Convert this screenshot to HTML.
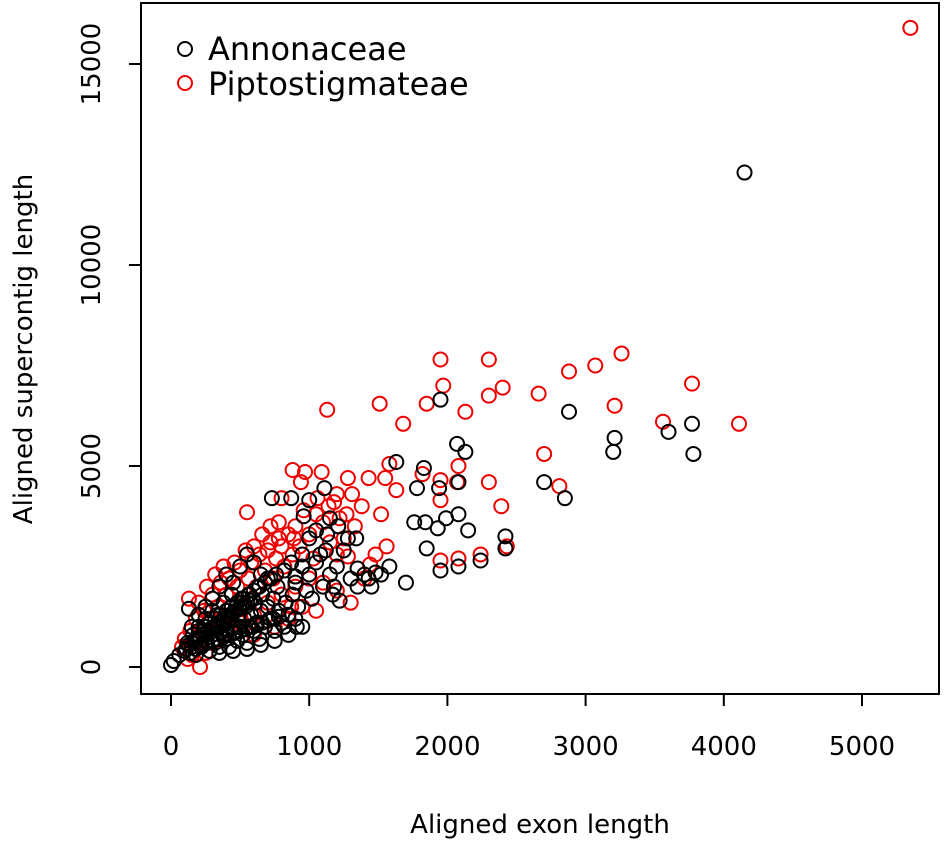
<!DOCTYPE html>
<html><head><meta charset="utf-8"><style>
body{margin:0;background:#fff}
svg{display:block;font-family:"DejaVu Sans","Liberation Sans",sans-serif}
</style></head><body>
<svg id="chart" width="945" height="841">
<rect x="141" y="3" width="798" height="691" fill="none" stroke="#000" stroke-width="2"/>
<g id="xaxis"></g>
<g id="yaxis"></g>
<g id="red"></g>
<g id="black"></g>
<text x="540" y="833" font-size="26" text-anchor="middle">Aligned exon length</text>
<text transform="translate(32,349) rotate(-90)" font-size="26" text-anchor="middle">Aligned supercontig length</text>
<g>
<circle cx="185" cy="49" r="7" fill="none" stroke="#000" stroke-width="2"/>
<text x="208" y="60" font-size="32">Annonaceae</text>
<circle cx="185" cy="83" r="7" fill="none" stroke="#e00" stroke-width="2"/>
<text x="208" y="95" font-size="32">Piptostigmateae</text>
</g>
</svg>
<script>
const xTicks=[0,1000,2000,3000,4000,5000];
const yTicks=[0,5000,10000,15000];
const blackX=[4150,2880,1950,3770,3600,3210,3200,3780,2070,2130,1630,2700,2850,1830,1780,1940,2080,1990,2080,2150,1840,1760,1930,2420,2420,2240,1850,1950,2080,1700,1580,1520,1480,1350,1350,1450,1430,1180,1170,1220,1280,1340,1210,1150,1130,1110,1000,870,730,960,1000,1050,1080,950,900,900,910,820,130,0,20,60,
100,120,150,160,180,200,200,220,240,250,260,280,280,300,300,320,330,340,350,360,380,380,400,400,410,420,430,440,450,460,470,480,490,500,510,520,530,540,550,560,570,580,600,610,620,630,640,650,660,680,700,700,720,740,750,770,780,800,820,830,850,870,880,900,920,950,980,1000,1020,1050,1100,1120,1150,1200,1250,1300,1400,300,350,400,450,500,550,600,650,250,200,150,350,450,550,650,750,850,950,
110,130,170,190,210,230,250,270,290,310,330,350,370,390,410,430,450,470,490,510,530,550,570,590,140,180,220,260,300,340,380,420,460,500,540,580,620,200,240,280,320,360,400,440,480,520,560,600,640,680,720,760,260,300,340,380,420,460,500,540,580,620,660,700,740,780];
const blackY=[12300,6350,6650,6050,5850,5700,5350,5300,5550,5350,5100,4600,4200,4950,4450,4450,4600,3700,3800,3400,3600,3600,3450,3250,2950,2650,2950,2400,2500,2100,2500,2300,2350,2450,2000,2000,2200,2000,1800,1650,3200,3200,3500,3700,3300,4450,4150,4200,4200,3750,3200,3400,2800,2500,2250,1200,1000,1000,1450,50,150,300,
400,600,500,800,300,700,1000,500,900,1200,650,400,1100,800,1400,600,1000,1300,500,850,1150,1600,700,950,1400,500,1200,1800,850,1050,1500,650,1300,1000,1700,800,1200,1500,600,1000,1800,1300,900,1600,1100,2000,700,1400,1800,1000,1500,2200,1200,1700,900,2000,1400,1100,2400,1600,1300,2600,1800,2100,1500,2800,1900,2300,1700,2600,2000,2900,2300,2500,2900,2200,2300,1700,2000,2300,2100,2500,2800,2600,2300,1500,1300,1000,350,400,450,550,650,800,1000,
450,550,650,700,750,800,850,900,950,1000,1050,1100,1150,1200,1250,1300,1350,1400,1450,1500,1550,1600,1650,1700,350,450,550,600,650,700,750,800,850,900,950,1000,1050,900,1000,1100,1200,1300,1400,1500,1600,1700,1800,1900,2000,2100,2200,2300,600,650,700,750,800,850,900,950,1000,1050,1100,1150,1200,1250];
const redX=[5350,3260,3070,2880,2300,1950,1970,2400,2660,2300,1130,1510,1850,2130,3210,3770,3560,4110,1680,2700,2080,2070,2300,2390,2810,1950,1950,1820,1550,1430,1580,1630,1280,1200,1090,970,880,940,1310,1270,1520,1560,1480,1440,1280,1950,2080,2240,2430,1140,1050,890,780,720,800,550,1050,870,210,130,
80,100,140,160,180,200,220,240,260,280,300,320,340,360,380,400,420,440,460,480,500,520,540,560,580,600,620,640,660,680,700,720,740,760,780,800,820,850,880,900,930,960,1000,1030,1060,1100,1150,1180,1220,1250,1330,1380,300,400,500,600,700,800,900,1000,1100,1200,1300,1200,1400,150,250,120,600,750,850,950];
const redY=[15900,7800,7500,7350,7650,7650,7000,6950,6800,6750,6400,6550,6550,6350,6500,7050,6100,6050,6050,5300,5000,4600,4600,4000,4500,4650,4150,4800,4700,4700,5050,4400,4700,4300,4850,4850,4900,4600,4300,3800,3800,3000,2800,2550,2750,2650,2700,2800,3000,4000,3800,3200,3200,3500,4200,3850,1400,1500,0,1700,
500,700,900,600,1200,1600,900,1400,2000,1200,1800,2300,1500,2100,2500,1800,2200,1300,2600,2000,2400,1600,2900,2200,2600,3000,2000,2800,3300,2400,2900,3100,2200,2700,3600,3000,2500,3300,2800,3500,3000,3900,3300,2700,4200,3600,3100,4100,3700,3200,3500,4000,600,900,1100,1300,1600,1800,2000,2200,2100,1900,1600,2800,2200,300,350,200,800,1000,1200,1500];
const sx=v=>171+v*0.1382;
const sy=v=>667-v*0.04020;
const NS='http://www.w3.org/2000/svg';
function mk(tag,attrs,parent){const e=document.createElementNS(NS,tag);for(const k in attrs)e.setAttribute(k,attrs[k]);parent.appendChild(e);return e;}
const xa=document.getElementById('xaxis'),ya=document.getElementById('yaxis');
mk('line',{x1:sx(0),x2:sx(5000),y1:694,y2:694,stroke:'#000','stroke-width':2},xa);
xTicks.forEach(t=>{
  const l=mk('line',{x1:sx(t),x2:sx(t),y1:694,y2:706,stroke:'#000','stroke-width':2},xa);
  
  
  const tx=mk('text',{x:sx(t),y:755,'font-size':26,'text-anchor':'middle'},xa);
  tx.textContent=t;
  
  
});
mk('line',{x1:141,x2:141,y1:sy(0),y2:sy(15000),stroke:'#000','stroke-width':2},ya);
yTicks.forEach(t=>{
  const l=mk('line',{x1:129,x2:141,y1:sy(t),y2:sy(t),stroke:'#000','stroke-width':2},ya);
  
  
  const tx=mk('text',{transform:`translate(100,${sy(t)}) rotate(-90)`,'font-size':26,'text-anchor':'middle'},ya);
  tx.textContent=t;
  
  
});
function plot(xs,ys,g,col,name){
  xs.forEach((x,i)=>{
    const c=mk('circle',{cx:sx(x),cy:sy(ys[i]),r:7,fill:'none',stroke:col,'stroke-width':2},g);
    
    
  });
}
plot(redX,redY,document.getElementById('red'),'#e00','point-piptostigmateae');
plot(blackX,blackY,document.getElementById('black'),'#000','point-annonaceae');
</script>
</body></html>
